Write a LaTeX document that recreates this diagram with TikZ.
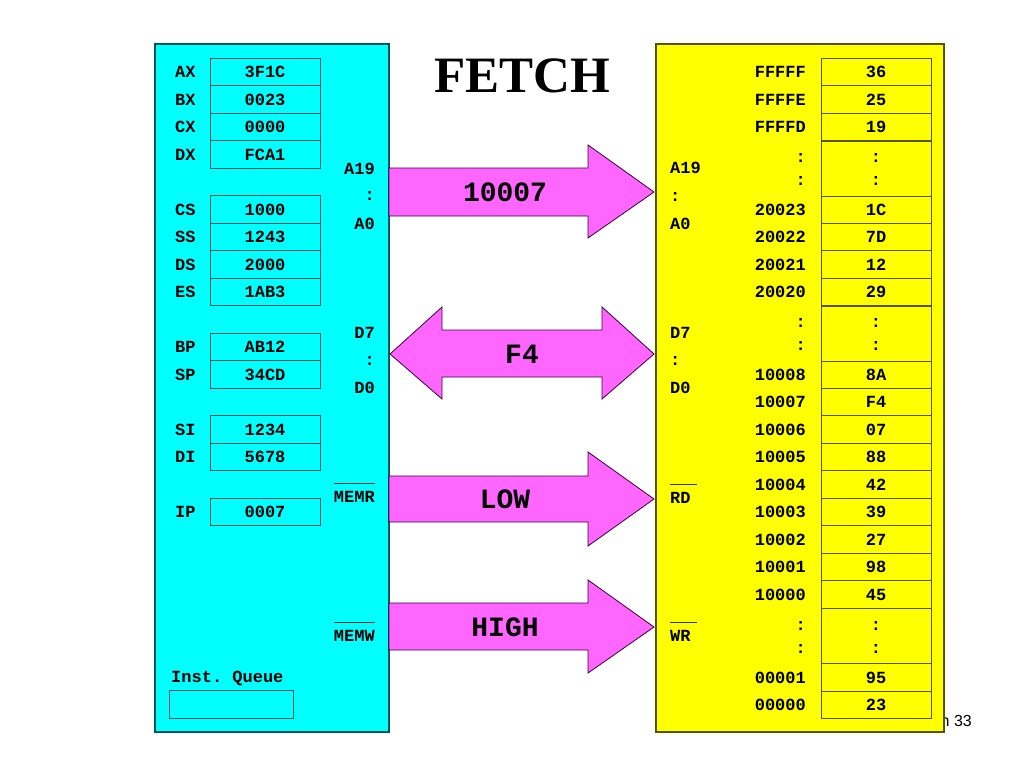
\documentclass[tikz,border=0pt]{standalone}
\usepackage{fontspec}
\setmainfont{Liberation Serif}
\setmonofont{Liberation Mono}
\newfontfamily\pagefont{Liberation Sans}
\usepackage{tikz}
\definecolor{cpubg}{RGB}{0,255,255}
\definecolor{cpuline}{RGB}{0,85,85}
\definecolor{membg}{RGB}{255,255,0}
\definecolor{memline}{RGB}{85,85,0}
\definecolor{busfill}{RGB}{255,102,255}
\definecolor{busline}{RGB}{60,0,60}
\newcommand\regfont{\ttfamily\bfseries\fontsize{17}{17}\selectfont}
\newcommand\busfont{\ttfamily\bfseries\fontsize{28}{28}\selectfont}
\tikzset{
  txt/.style={font=\regfont, inner sep=0pt, text height=11pt, text depth=0pt},
  regbox/.style={txt, draw=cpuline, fill=cpubg, line width=1pt, minimum width=110pt, minimum height=27.5pt},
  cellbox/.style={txt, draw=memline, fill=membg, line width=1pt, minimum width=110pt, minimum height=27.5pt},
  bus/.style={fill=busfill, draw=busline, line width=0.8pt, line join=miter},
  buslabel/.style={font=\busfont, inner sep=0pt, text height=18pt, text depth=0pt},
  barline/.style={draw=black!80, line width=1pt},
  title/.style={font=\bfseries\fontsize{51}{51}\selectfont, inner sep=0pt, text height=34pt, text depth=0pt}
}

\begin{document}
\begin{tikzpicture}[x=1pt,y=-1pt]
\useasboundingbox (0,0) rectangle (1024,768);
\node[font=\pagefont\fontsize{16}{16}\selectfont, inner sep=0pt, anchor=east] (page) at (972,721) {n 33};
\filldraw[draw=cpuline, fill=cpubg, line width=1.2pt] (155,44) rectangle (389,732);
\filldraw[draw=memline, fill=membg, line width=1.2pt] (656,44) rectangle (944,732);
\node[title] (fetch) at (522,75.5) {FETCH};

\foreach \r/\v/\y in {AX/3F1C/72, BX/0023/99.5, CX/0000/127, DX/FCA1/154.5,
  CS/1000/209.5, SS/1243/237, DS/2000/264.5, ES/1AB3/292,
  BP/AB12/347, SP/34CD/374.5, SI/1234/429.5, DI/5678/457, IP/0007/512}{
  \node[regbox] (reg\r) at (265,\y) {\v};
  \node[txt, anchor=west] (name\r) at (175,\y) {\r};
}
\node[txt, anchor=west] (queuename) at (171,677) {Inst. Queue};
\node[regbox, minimum width=124pt, minimum height=28pt] (queue) at (231,704) {};

\foreach \a/\d/\y in {FFFFF/36/72, FFFFE/25/99.5, FFFFD/19/127,
  20023/1C/209.5, 20022/7D/237, 20021/12/264.5, 20020/29/292,
  10008/8A/374.5, 10007/F4/402, 10006/07/429.5, 10005/88/457, 10004/42/484.5,
  10003/39/512, 10002/27/539.5, 10001/98/567, 10000/45/594.5,
  00001/95/677.5, 00000/23/705}{
  \node[cellbox] (cell\a) at (876,\y) {\d};
  \node[txt, anchor=east] (addr\a) at (806,\y) {\a};
}
\foreach \y [count=\i] in {168.5,333.5,636}{
  \node[cellbox, minimum height=55pt] (gap\i) at (876,\y) {};
  \node[txt] (gaptop\i) at (876,\y-11.5) {:};
  \node[txt] (gapbot\i) at (876,\y+11.5) {:};
  \node[txt, anchor=east] (adrtop\i) at (806,\y-11.5) {:};
  \node[txt, anchor=east] (adrbot\i) at (806,\y+11.5) {:};
}

\foreach \t/\y [count=\i] in {A19/169, :/195, A0/224, D7/333, :/360, D0/388}{
  \node[txt, anchor=east] (cpupin\i) at (375,\y) {\t};
}
\foreach \t/\y [count=\i] in {A19/168, :/196, A0/224, D7/333, :/360, D0/388}{
  \node[txt, anchor=west] (mempin\i) at (670,\y) {\t};
}
\node[txt, anchor=east] (memr) at (375,497) {MEMR};
\node[txt, anchor=east] (memw) at (375,636) {MEMW};
\node[txt, anchor=west] (rd) at (670,498) {RD};
\node[txt, anchor=west] (wr) at (670,636) {WR};
\draw[barline] ([yshift=7.5pt]memr.north west) -- ([yshift=7.5pt]memr.north east);
\draw[barline] ([yshift=7.5pt]memw.north west) -- ([yshift=7.5pt]memw.north east);
\draw[barline] ([yshift=7.5pt]rd.north west) -- ([yshift=7.5pt,xshift=6pt]rd.north east);
\draw[barline] ([yshift=7.5pt]wr.north west) -- ([yshift=7.5pt,xshift=6pt]wr.north east);

\filldraw[bus] (389,168) -- (588,168) -- (588,145) -- (654,192) -- (588,238) -- (588,216) -- (389,216) -- cycle;
\filldraw[bus] (390,354) -- (442,307) -- (442,330) -- (602,330) -- (602,307) -- (654,354) -- (602,399) -- (602,377) -- (442,377) -- (442,399) -- cycle;
\filldraw[bus] (389,476) -- (588,476) -- (588,452) -- (654,499) -- (588,546) -- (588,522) -- (389,522) -- cycle;
\filldraw[bus] (389,603) -- (588,603) -- (588,580) -- (654,627) -- (588,673) -- (588,650) -- (389,650) -- cycle;
\node[buslabel] (addrbus) at (505,192) {10007};
\node[buslabel] (databus) at (522,354) {F4};
\node[buslabel] (readbus) at (505,499) {LOW};
\node[buslabel] (writebus) at (505,627) {HIGH};
\end{tikzpicture}
\end{document}
